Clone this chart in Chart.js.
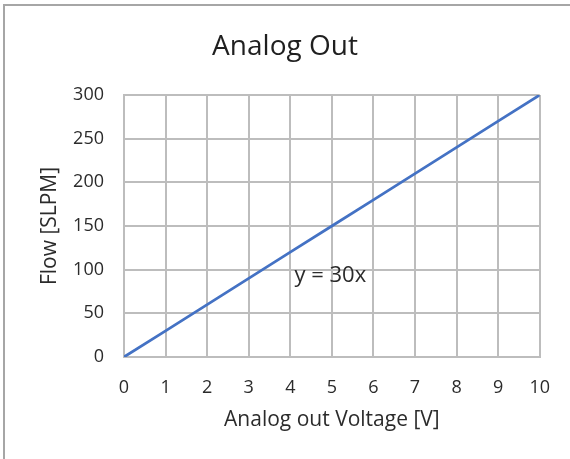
<!DOCTYPE html>
<html>
<head>
<meta charset="utf-8">
<script src="https://cdn.jsdelivr.net/npm/chart.js@4/dist/chart.umd.min.js"></script>
<style>
  html, body { margin: 0; padding: 0; background: #fff; }
  #wrap { position: relative; width: 570px; height: 459px; overflow: hidden; }
  #frame { position: absolute; left: 3px; top: 4px; width: 600px; height: 500px;
           border-left: 2px solid #a6a6a6; border-top: 2px solid #a6a6a6; }
  canvas { position: absolute; left: 0; top: 0; }
</style>
</head>
<body>
<div id="wrap">
  <div id="frame"></div>
  <canvas id="chart" width="570" height="459"></canvas>
</div>
<script>
const voltage = [0, 1, 2, 3, 4, 5, 6, 7, 8, 9, 10];
const flow = [0, 30, 60, 90, 120, 150, 180, 210, 240, 270, 300];
const trendLabel = 'y = 30x';
const trendLabelAt = { x: 4.1, y: 93 };

const textColor = '#2b2b2b';
const gridColor = '#bdbdbd';
const fontFamily = "'Open Sans', 'DejaVu Sans', sans-serif";

// writes the equation label next to the line, placed with the chart scales
const equationLabel = {
  id: 'equationLabel',
  afterDatasetsDraw(chart) {
    const {ctx, scales} = chart;
    const px = scales.x.getPixelForValue(trendLabelAt.x);
    const py = scales.y.getPixelForValue(trendLabelAt.y);
    ctx.save();
    ctx.font = '22px ' + fontFamily;
    ctx.fillStyle = textColor;
    ctx.textAlign = 'left';
    ctx.textBaseline = 'middle';
    ctx.fillText(trendLabel, px, py);
    ctx.restore();
  }
};

new Chart(document.getElementById('chart'), {
  type: 'line',
  data: {
    datasets: [{
      data: voltage.map((v, i) => ({x: v, y: flow[i]})),
      borderColor: '#4472C4',
      borderWidth: 2.75,
      pointRadius: 0,
      tension: 0
    }]
  },
  options: {
    responsive: false,
    animation: false,
    layout: { padding: 0 },
    plugins: {
      legend: { display: false },
      tooltip: { enabled: false },
      title: {
        display: true,
        text: 'Analog Out',
        color: '#1f1f1f',
        font: { family: fontFamily, size: 28, weight: 'normal' },
        padding: { top: 30.2, bottom: 31.2 }
      }
    },
    scales: {
      x: {
        type: 'linear',
        min: 0,
        max: 10,
        afterFit(scale) { scale.height = 102; },
        ticks: { stepSize: 1, padding: 20, color: textColor,
                 font: { family: fontFamily, size: 18 } },
        grid: { color: gridColor, lineWidth: 2, drawTicks: false },
        border: { color: gridColor, width: 2 },
        title: {
          display: true,
          text: 'Analog out Voltage [V]',
          color: textColor,
          font: { family: fontFamily, size: 21 },
          padding: { top: 0, bottom: 26.4 }
        }
      },
      y: {
        min: 0,
        max: 300,
        afterFit(scale) { scale.width = 124; },
        ticks: { stepSize: 50, padding: 20, color: textColor,
                 font: { family: fontFamily, size: 18 } },
        grid: { color: gridColor, lineWidth: 2, drawTicks: false },
        border: { color: gridColor, width: 2 },
        title: {
          display: true,
          text: 'Flow [SLPM]',
          color: textColor,
          font: { family: fontFamily, size: 21 },
          padding: { top: 37.4, bottom: 0 }
        }
      },
      // empty right-hand spacer so the title stays centred on the whole canvas
      spacer: {
        position: 'right',
        display: true,
        afterFit(scale) { scale.width = 29; },
        ticks: { display: false },
        grid: { display: false, drawTicks: false },
        border: { display: false }
      }
    }
  },
  plugins: [equationLabel]
});
</script>
</body>
</html>
